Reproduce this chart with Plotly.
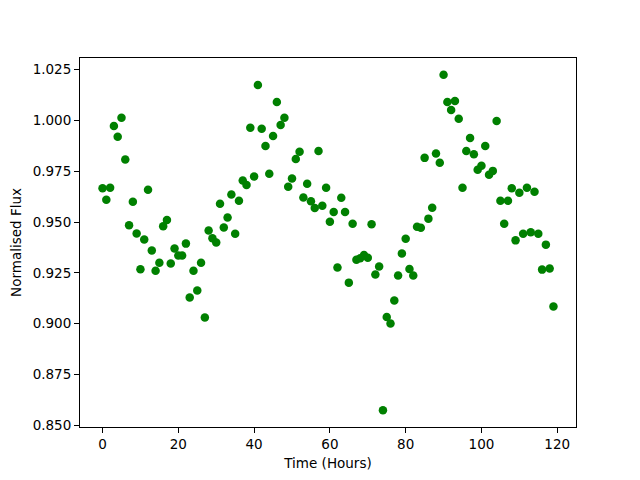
import plotly.graph_objects as go

time_hours = [
    0, 1, 2, 3, 4, 5, 6, 7, 8, 9, 10, 11, 12, 13, 14, 15, 16, 17, 18, 19,
    20, 21, 22, 23, 24, 25, 26, 27, 28, 29, 30, 31, 32, 33, 34, 35, 36, 37, 38, 39,
    40, 41, 42, 43, 44, 45, 46, 47, 48, 49, 50, 51, 52, 53, 54, 55, 56, 57, 58, 59,
    60, 61, 62, 63, 64, 65, 66, 67, 68, 69, 70, 71, 72, 73, 74, 75, 76, 77, 78, 79,
    80, 81, 82, 83, 84, 85, 86, 87, 88, 89, 90, 91, 92, 93, 94, 95, 96, 97, 98, 99,
    100, 101, 102, 103, 104, 105, 106, 107, 108, 109, 110, 111, 112, 113, 114, 115, 116, 117, 118, 119,
]

normalised_flux = [
    0.9666, 0.9610, 0.9669, 0.9973, 0.9920, 1.0013, 0.9808, 0.9484, 0.9600, 0.9444,
    0.9268, 0.9414, 0.9659, 0.9360, 0.9260, 0.9300, 0.9480, 0.9510, 0.9296, 0.9370,
    0.9335, 0.9335, 0.9394, 0.9129, 0.9260, 0.9163, 0.9300, 0.9030, 0.9458, 0.9420,
    0.9399, 0.9590, 0.9473, 0.9522, 0.9636, 0.9443, 0.9605, 0.9705, 0.9682, 0.9964,
    0.9724, 1.0175, 0.9959, 0.9875, 0.9738, 0.9924, 1.0091, 0.9978, 1.0014, 0.9674,
    0.9715, 0.9810, 0.9846, 0.9621, 0.9689, 0.9602, 0.9569, 0.9850, 0.9580, 0.9669,
    0.9502, 0.9550, 0.9276, 0.9620, 0.9550, 0.9202, 0.9492, 0.9315, 0.9322, 0.9338,
    0.9325, 0.9489, 0.9242, 0.9281, 0.8574, 0.9033, 0.9001, 0.9114, 0.9237, 0.9345,
    0.9418, 0.9269, 0.9237, 0.9477, 0.9472, 0.9816, 0.9517, 0.9571, 0.9837, 0.9792,
    1.0225, 1.0091, 1.0052, 1.0096, 1.0008, 0.9669, 0.9850, 0.9914, 0.9834, 0.9757,
    0.9777, 0.9875, 0.9733, 0.9752, 0.9998, 0.9605, 0.9492, 0.9605, 0.9666, 0.9410,
    0.9644, 0.9443, 0.9669, 0.9450, 0.9649, 0.9443, 0.9266, 0.9389, 0.9271, 0.9084,
]

y_ticks = [0.850, 0.875, 0.900, 0.925, 0.950, 0.975, 1.000, 1.025]
x_ticks = [0, 20, 40, 60, 80, 100, 120]

x_pad = (max(time_hours) - min(time_hours)) * 0.05
y_pad = (max(normalised_flux) - min(normalised_flux)) * 0.05

fig = go.Figure()
fig.add_trace(go.Scatter(
    x=time_hours, y=normalised_flux, mode="markers",
    marker=dict(color="#008000", size=8.5, line=dict(width=0)),
    showlegend=False, hoverinfo="x+y",
))

axis_common = dict(
    showline=True, linecolor="black", linewidth=1, mirror=True,
    ticks="outside", ticklen=5, tickwidth=1, tickcolor="black",
    showgrid=False, zeroline=False,
    tickfont=dict(family="DejaVu Sans", size=13.5, color="black"),
)

# page body has an 8px offset; margins compensate so the axes land where the reference has them
fig.update_layout(
    width=640, height=480,
    margin=dict(l=72, r=72, t=50, b=61, autoexpand=False),
    paper_bgcolor="white", plot_bgcolor="white",
    font=dict(family="DejaVu Sans", size=13.5, color="black"),
    xaxis=dict(
        range=[min(time_hours) - x_pad, max(time_hours) + x_pad],
        tickvals=x_ticks,
        title=dict(text="Time (Hours)", font=dict(family="DejaVu Sans", size=13.5, color="black"), standoff=7),
        automargin=False,
        **axis_common,
    ),
    yaxis=dict(
        range=[min(normalised_flux) - y_pad, max(normalised_flux) + y_pad],
        tickvals=y_ticks, tickformat=".3f",
        title=dict(text="Normalised Flux", font=dict(family="DejaVu Sans", size=13.5, color="black"), standoff=8),
        automargin=False,
        **axis_common,
    ),
)

fig.write_html("out.html")
